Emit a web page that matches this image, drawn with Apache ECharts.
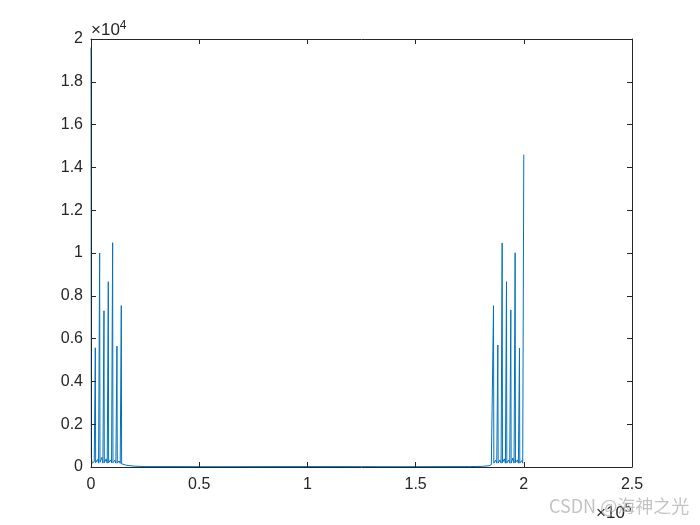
<!DOCTYPE html>
<html>
<head>
<meta charset="utf-8">
<script src="https://cdn.jsdelivr.net/npm/echarts@6/dist/echarts.min.js"></script>
<style>html,body{margin:0;padding:0;background:#fff}#c{width:700px;height:525px}</style>
</head>
<body>
<div id="c"></div>
<script>
// spectrum sample positions (x) and magnitudes (y)
var specX = [0, 150, 500, 1000, 1500, 1850, 2000, 2150, 2500, 3000, 3500, 3850, 4000, 4150, 4600, 5000, 5500, 5850, 6000, 6150, 6600, 7000, 7500, 7850, 8000, 8150, 8600, 9000, 9500, 9850, 10000, 10150, 10600, 11000, 11500, 11850, 12000, 12150, 12600, 13000, 13500, 13850, 14000, 14150, 15000, 16000, 18000, 20000, 25000, 60000, 100000, 140000, 175000, 181000, 184000, 185000, 185850, 186000, 186150, 186600, 187000, 187500, 187850, 188000, 188150, 188600, 189000, 189500, 189850, 190000, 190150, 190600, 191000, 191500, 191850, 192000, 192150, 192600, 193000, 193500, 193850, 194000, 194150, 194600, 195000, 195500, 195850, 196000, 196150, 196600, 197000, 197500, 197850, 198000, 198150, 198600, 199000, 199500, 199850, 200000];
var specY = [19600, 450, 180, 150, 250, 180, 5570, 200, 150, 350, 180, 200, 10000, 220, 160, 450, 180, 200, 7300, 200, 150, 380, 180, 200, 8660, 200, 150, 330, 200, 180, 10480, 200, 150, 320, 180, 180, 5650, 180, 160, 280, 170, 170, 7540, 150, 120, 90, 60, 40, 20, 15, 20, 15, 20, 30, 60, 110, 180, 7540, 180, 220, 320, 180, 180, 5700, 180, 180, 330, 180, 180, 10470, 200, 180, 380, 180, 180, 8660, 180, 180, 330, 180, 180, 7340, 180, 180, 420, 180, 180, 10010, 200, 180, 330, 180, 180, 5550, 180, 170, 300, 180, 180, 14600];
var xTicks = [0, 50000, 100000, 150000, 200000, 250000];
var xTickLabels = ['0', '0.5', '1', '1.5', '2', '2.5'];
var yTickLabels = ['0', '0.2', '0.4', '0.6', '0.8', '1', '1.2', '1.4', '1.6', '1.8', '2'];

var data = specX.map(function (x, i) { return [x, specY[i]]; });
var axisCol = '#262626';
var font = 'Liberation Sans, Arial, sans-serif';

var chart = echarts.init(document.getElementById('c'));
function common() {
  return {
    axisLine: { show: true, onZero: false, lineStyle: { color: axisCol, width: 1 } },
    axisTick: { show: true, inside: true, length: 5, lineStyle: { color: axisCol } },
    splitLine: { show: false }
  };
}
chart.setOption({
  animation: false,
  backgroundColor: '#fff',
  grid: { left: 91, right: 68, top: 39, bottom: 58 },
  xAxis: [
    Object.assign({
      type: 'value', min: 0, max: 250000, interval: 50000, position: 'bottom',
      axisLabel: { color: axisCol, fontSize: 16, fontFamily: font, margin: 10,
        formatter: function (v) { var i = xTicks.indexOf(v); return i >= 0 ? xTickLabels[i] : ''; } }
    }, common()),
    Object.assign({
      type: 'value', min: 0, max: 250000, interval: 50000, position: 'top',
      axisLabel: { show: false }
    }, common())
  ],
  yAxis: [
    Object.assign({
      type: 'value', min: 0, max: 20000, interval: 2000, position: 'left',
      axisLabel: { color: axisCol, fontSize: 16, fontFamily: font, margin: 8,
        formatter: function (v) { return yTickLabels[Math.round(v / 2000)]; } }
    }, common()),
    Object.assign({
      type: 'value', min: 0, max: 20000, interval: 2000, position: 'right',
      axisLabel: { show: false }
    }, common())
  ],
  graphic: [
    { type: 'text', left: 91, top: 20, style: {
        text: '×10{s|4}', fill: axisCol, font: '17px ' + font,
        rich: { s: { fontSize: 12, fontFamily: font, verticalAlign: 'top', padding: [0,0,9,0], fill: axisCol } } } },
    { type: 'text', left: 596, top: 503, style: {
        text: '×10{s|5}', fill: axisCol, font: '17px ' + font,
        rich: { s: { fontSize: 12, fontFamily: font, verticalAlign: 'top', padding: [0,0,9,0], fill: axisCol } } } },
    { type: 'text', left: 549, top: 497, z: 100, style: {
        text: 'CSDN @海神之光', fill: 'rgba(185,185,185,0.85)', font: '18px "Noto Sans CJK SC", sans-serif' } }
  ],
  series: [{
    type: 'line', data: data, showSymbol: false, symbol: 'none', z: -1,
    lineStyle: { color: '#0072BD', width: 1 }, clip: true
  }]
});
</script>
</body>
</html>
